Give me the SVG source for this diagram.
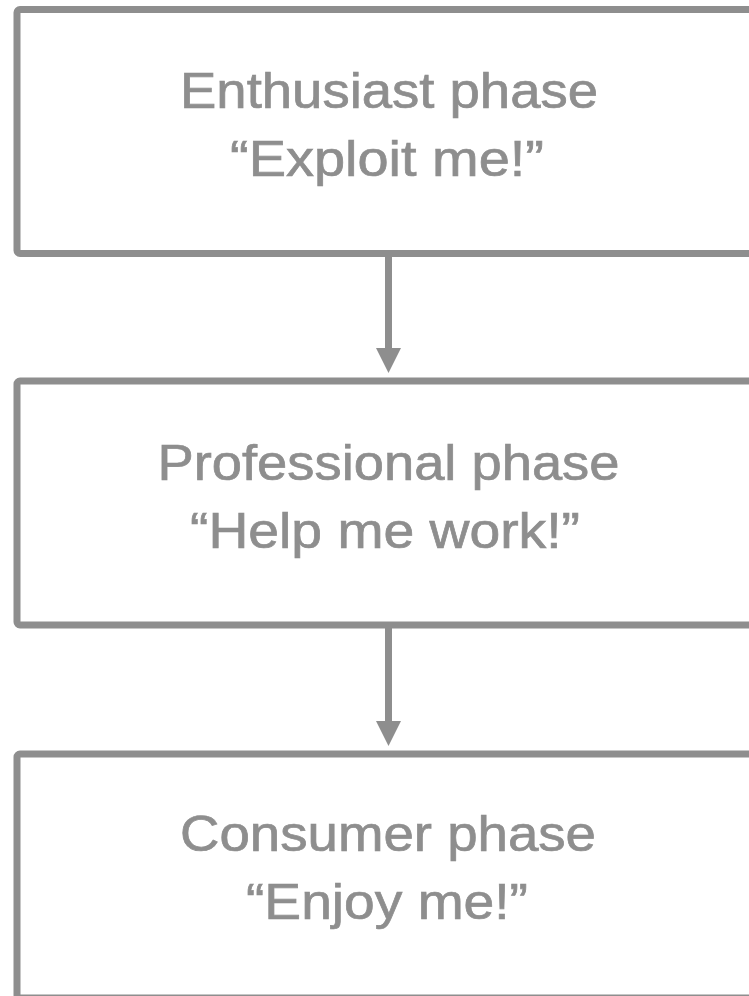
<svg xmlns="http://www.w3.org/2000/svg" width="749" height="996" viewBox="0 0 749 996">
  <style>
    .box { fill: #ffffff; stroke: #8e8e8e; stroke-width: 7; stroke-linejoin: round; }
    .label { font-family: "Liberation Sans", Arial, Helvetica, sans-serif; font-size: 50px; fill: #8e8e8e; stroke: #8e8e8e; stroke-width: 0.7; text-anchor: middle; }
    .wire { stroke: #8e8e8e; stroke-width: 7; fill: none; }
    .head { fill: #8e8e8e; }
  </style>
  <rect width="749" height="996" fill="#ffffff"/>

  <g id="enthusiast">
    <rect class="box" x="17" y="9.5" width="760" height="244" rx="3"/>
    <text class="label" x="389" y="108" textLength="418" lengthAdjust="spacingAndGlyphs">Enthusiast phase</text>
    <text class="label" x="387" y="176" textLength="314" lengthAdjust="spacingAndGlyphs">“Exploit me!”</text>
  </g>

  <g id="professional">
    <rect class="box" x="17" y="381" width="760" height="244" rx="3"/>
    <text class="label" x="388.5" y="480" textLength="462" lengthAdjust="spacingAndGlyphs">Professional phase</text>
    <text class="label" x="385" y="548" textLength="390" lengthAdjust="spacingAndGlyphs">“Help me work!”</text>
  </g>

  <g id="consumer">
    <rect class="box" x="17" y="754" width="760" height="244" rx="3"/>
    <text class="label" x="388" y="851" textLength="416" lengthAdjust="spacingAndGlyphs">Consumer phase</text>
    <text class="label" x="387" y="919" textLength="282" lengthAdjust="spacingAndGlyphs">“Enjoy me!”</text>
  </g>

  <g id="connectors">
    <line class="wire" x1="388.5" y1="257" x2="388.5" y2="350"/>
    <polygon class="head" points="376,348 401,348 388.5,373"/>
    <line class="wire" x1="388.5" y1="628" x2="388.5" y2="723"/>
    <polygon class="head" points="376,721 401,721 388.5,746"/>
  </g>
</svg>
